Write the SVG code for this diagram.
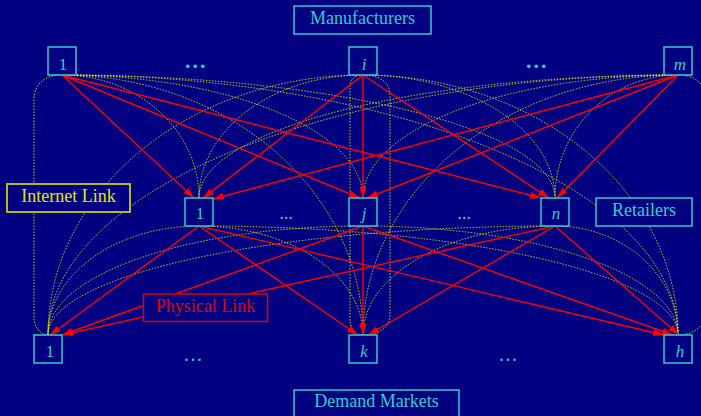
<svg xmlns="http://www.w3.org/2000/svg" width="701" height="416" viewBox="0 0 701 416">
<defs>
<marker id="ah" markerUnits="userSpaceOnUse" markerWidth="12" markerHeight="8" refX="11" refY="3.5" orient="auto">
<path d="M0,0 L11,3.5 L0,7 z" fill="#FF0000"/>
</marker>
<style>
.net{fill:none;stroke:#FFFF00;stroke-width:1;stroke-dasharray:1.5 1.5;opacity:0.8}
.phy{fill:none;stroke:#FF0000;stroke-width:1.4;marker-end:url(#ah)}
.node rect{fill:#000080;stroke:#33CCCC;stroke-width:1.5}
.node text{fill:#33CCCC;font-family:"Liberation Serif","Times New Roman",serif;font-size:17px;text-anchor:middle}
.it{font-style:italic}
.lab{font-family:"Liberation Serif","Times New Roman",serif;font-size:18px;text-anchor:middle}
.dots{fill:#33CCCC;font-family:"Liberation Serif","Times New Roman",serif}
</style>
</defs>
<rect width="701" height="416" fill="#000080"/>
<g id="connectors">
<g id="internet-links">
<path class="net" d="M62,75 A137,123 0 0 1 199,198"/>
<path class="net" d="M62,75 A301,123 0 0 1 363,198"/>
<path class="net" d="M62,75 A493,123 0 0 1 555,198"/>
<path class="net" d="M363,75 A164,123 0 0 0 199,198"/>
<path class="net" d="M363,75 C355,75 350,79 350,87 L350,198"/>
<path class="net" d="M363,75 A192,123 0 0 1 555,198"/>
<path class="net" d="M678,75 A479,123 0 0 0 199,198"/>
<path class="net" d="M678,75 A315,123 0 0 0 363,198"/>
<path class="net" d="M678,75 A123,123 0 0 0 555,198"/>
<path class="net" d="M62,75 C45,75 34,84 34,100 L34,316 C34,327 40,335 48,335"/>
<path class="net" d="M62,75 A301,260 0 0 1 363,335"/>
<path class="net" d="M62,75 A616,260 0 0 1 678,335"/>
<path class="net" d="M363,75 A315,260 0 0 0 48,335"/>
<path class="net" d="M363,75 C380,75 390,83 390,95 L390,315 C390,328 378,335 363,335"/>
<path class="net" d="M363,75 A315,260 0 0 1 678,335"/>
<path class="net" d="M678,75 A630,260 0 0 0 48,335"/>
<path class="net" d="M678,75 A315,260 0 0 0 363,335"/>
<path class="net" d="M678,75 C695,75 706,84 706,100 L706,310 C706,325 695,335 678,335"/>
<path class="net" d="M199,226 A151,109 0 0 0 48,335"/>
<path class="net" d="M199,226 A164,109 0 0 1 363,335"/>
<path class="net" d="M199,226 A479,109 0 0 1 678,335"/>
<path class="net" d="M363,226 A315,109 0 0 0 48,335"/>
<path class="net" d="M350,226 L350,318 C350,329 355,335 363,335"/>
<path class="net" d="M363,226 A315,109 0 0 1 678,335"/>
<path class="net" d="M555,226 A507,109 0 0 0 48,335"/>
<path class="net" d="M555,226 A192,109 0 0 0 363,335"/>
<path class="net" d="M555,226 A123,109 0 0 1 678,335"/>
</g>
<g id="physical-links">
<path class="phy" d="M62,75 L194,198"/>
<path class="phy" d="M62,75 L360,198"/>
<path class="phy" d="M62,75 L541,198"/>
<path class="phy" d="M363,75 L203,198"/>
<path class="phy" d="M363,75 L363,198"/>
<path class="phy" d="M363,75 L549,198"/>
<path class="phy" d="M678,75 L213,199"/>
<path class="phy" d="M678,75 L367,198"/>
<path class="phy" d="M678,75 L557,198"/>
<path class="phy" d="M199,226 L50,335"/>
<path class="phy" d="M199,226 L358,335"/>
<path class="phy" d="M199,226 L664,335"/>
<path class="phy" d="M363,226 L62,335"/>
<path class="phy" d="M363,226 L363,335"/>
<path class="phy" d="M363,226 L673,335"/>
<path class="phy" d="M555,226 L62,335"/>
<path class="phy" d="M555,226 L368,335"/>
<path class="phy" d="M555,226 L679,335"/>
</g>
</g>
<g id="manufacturer-1" class="node"><rect x="48" y="47" width="28" height="28"/><text x="63" y="69.5">1</text></g>
<g id="manufacturer-i" class="node"><rect x="349" y="47" width="28" height="28"/><text class="it" x="364" y="69.5">i</text></g>
<g id="manufacturer-m" class="node"><rect x="664" y="47" width="28" height="28"/><text class="it" x="680" y="69.5">m</text></g>
<g id="retailer-1" class="node"><rect x="185" y="198" width="28" height="28"/><text x="200" y="219">1</text></g>
<g id="retailer-j" class="node"><rect x="349" y="198" width="28" height="28"/><text class="it" x="364" y="219">j</text></g>
<g id="retailer-n" class="node"><rect x="541" y="198" width="28" height="28"/><text class="it" x="556" y="219">n</text></g>
<g id="demand-1" class="node"><rect x="34" y="335" width="28" height="28"/><text x="50" y="357">1</text></g>
<g id="demand-k" class="node"><rect x="349" y="335" width="28" height="28"/><text class="it" x="364" y="357">k</text></g>
<g id="demand-h" class="node"><rect x="664" y="335" width="28" height="28"/><text class="it" x="680" y="357">h</text></g>
<g id="ellipses">
<text class="dots" x="185" y="68" font-size="22" font-weight="bold" letter-spacing="2">...</text>
<text class="dots" x="526" y="68" font-size="22" font-weight="bold" letter-spacing="2">...</text>
<text class="dots" x="279.5" y="218.5" font-size="18">...</text>
<text class="dots" x="457.5" y="218.5" font-size="18">...</text>
<text class="dots" x="184" y="361" font-size="20" letter-spacing="1.5">...</text>
<text class="dots" x="499" y="361" font-size="20" letter-spacing="1.5">...</text>
</g>
<g id="label-manufacturers"><rect x="294" y="6" width="137" height="28" fill="#000080" stroke="#33CCCC" stroke-width="1.5"/><text class="lab" x="362.5" y="24" fill="#33CCCC">Manufacturers</text></g>
<g id="label-retailers"><rect x="596" y="198" width="96" height="28" fill="#000080" stroke="#33CCCC" stroke-width="1.5"/><text class="lab" x="644" y="215.5" fill="#33CCCC">Retailers</text></g>
<g id="label-demand"><rect x="294" y="390" width="165" height="30" fill="#000080" stroke="#33CCCC" stroke-width="1.5"/><text class="lab" x="376.5" y="406.5" fill="#33CCCC">Demand Markets</text></g>
<g id="label-internet"><rect x="7" y="184" width="123" height="28" fill="#000080" stroke="#CCCC00" stroke-width="1.8"/><text class="lab" x="68.5" y="201.5" fill="#E6E600">Internet Link</text></g>
<g id="label-physical"><rect x="143.5" y="294" width="124" height="27.5" fill="#000080" stroke="#E00000" stroke-width="1.5"/><text class="lab" x="205.5" y="312" fill="#E00000">Physical Link</text></g>
</svg>
